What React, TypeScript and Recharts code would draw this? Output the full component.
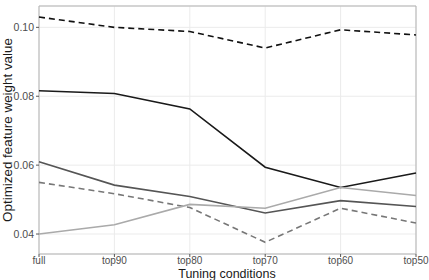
import { LineChart, Line, XAxis, YAxis, CartesianGrid, ReferenceArea, Label } from "recharts";

const conditions = ["full", "top90", "top80", "top70", "top60", "top50"];
const seriesA = [0.103, 0.1, 0.0988, 0.094, 0.0993, 0.0978];
const seriesB = [0.0816, 0.0808, 0.0763, 0.0594, 0.0535, 0.0577];
const seriesC = [0.061, 0.0542, 0.0509, 0.0461, 0.0497, 0.048];
const seriesD = [0.055, 0.0517, 0.0477, 0.0376, 0.0475, 0.0432];
const seriesE = [0.04, 0.0427, 0.0486, 0.0475, 0.0535, 0.0512];
const yTicks = [0.04, 0.06, 0.08, 0.1];
const yDomain = [0.0342, 0.1062];

const data = conditions.map((c, i) => ({
  cond: c,
  a: seriesA[i],
  b: seriesB[i],
  c: seriesC[i],
  d: seriesD[i],
  e: seriesE[i],
}));

const font = "'Liberation Sans', Arial, sans-serif";
const tickStyle = { fontSize: 10.5, fill: "#4d4d4d", fontFamily: font };
const xTickStyle = { fontSize: 10, fill: "#4d4d4d", fontFamily: font };

export default function App() {
  return (
    <div style={{ position: "absolute", left: 0, top: 0, background: "#fff" }}>
      <LineChart width={429} height={280} data={data} margin={{ top: 6, right: 13, left: 0, bottom: 0 }}>
        <CartesianGrid stroke="#ebebeb" strokeWidth={1} />
        <XAxis
          dataKey="cond"
          height={26}
          tick={xTickStyle}
          tickSize={3}
          tickMargin={0}
          axisLine={false}
          tickLine={{ stroke: "#555" }}
          interval={0}
        >
          <Label
            content={() => (
              <text x={227} y={277.6} textAnchor="middle" fontSize={12.5} fill="#1a1a1a" fontFamily={font}>
                Tuning conditions
              </text>
            )}
          />
        </XAxis>
        <YAxis
          width={39}
          domain={yDomain}
          ticks={yTicks}
          tickFormatter={(v: number) => v.toFixed(2)}
          tick={tickStyle}
          tickSize={3}
          tickMargin={2}
          axisLine={false}
          tickLine={{ stroke: "#555" }}
          allowDataOverflow
        >
          <Label
            content={() => (
              <text
                x={7}
                y={130}
                transform="rotate(-90 7 130)"
                textAnchor="middle"
                dominantBaseline="central"
                fontSize={13.4}
                fill="#1a1a1a"
                fontFamily={font}
              >
                Optimized feature weight value
              </text>
            )}
          />
        </YAxis>
        <ReferenceArea
          x1="full"
          x2="top50"
          y1={yDomain[0]}
          y2={yDomain[1]}
          fill="none"
          stroke="#b3b3b3"
          strokeWidth={1}
        />
        <Line dataKey="a" stroke="#111" strokeWidth={1.6} strokeDasharray="6 4" dot={false} isAnimationActive={false} />
        <Line dataKey="b" stroke="#1a1a1a" strokeWidth={1.6} dot={false} isAnimationActive={false} />
        <Line dataKey="c" stroke="#555" strokeWidth={1.6} dot={false} isAnimationActive={false} />
        <Line dataKey="d" stroke="#777" strokeWidth={1.6} strokeDasharray="6 4" dot={false} isAnimationActive={false} />
        <Line dataKey="e" stroke="#aaa" strokeWidth={1.6} dot={false} isAnimationActive={false} />
      </LineChart>
    </div>
  );
}
